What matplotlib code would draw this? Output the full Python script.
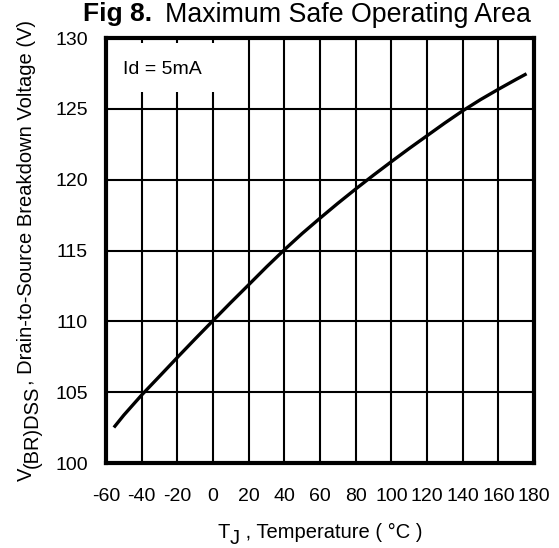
import numpy as np
import matplotlib.pyplot as plt
from matplotlib.patches import Rectangle
from matplotlib.transforms import IdentityTransform

plt.rcParams['font.family'] = ['Liberation Sans', 'DejaVu Sans']
plt.rcParams['axes.unicode_minus'] = False

# breakdown voltage vs junction temperature
temp_c = [-55, -50, -40, -30, -20, -10, 0, 10, 20, 30, 40, 50, 60, 70, 80, 90,
          100, 110, 120, 130, 140, 150, 160, 170, 175]
v_brdss = [102.6, 103.38, 104.8, 106.12, 107.45, 108.76, 110.05, 111.33, 112.58, 113.84,
           115.05, 116.2, 117.28, 118.33, 119.34, 120.32, 121.27, 122.2, 123.1, 124.0,
           124.86, 125.65, 126.38, 127.08, 127.42]

x_ticks = list(range(-60, 181, 20))
y_ticks = list(range(100, 131, 5))

W, H = 559, 548
fig = plt.figure(figsize=(W / 100, H / 100), dpi=100)
ax = fig.add_axes([106 / W, 1 - 463 / H, 428 / W, 425 / H])

ax.plot(temp_c, v_brdss, color='black', linewidth=2.4, zorder=4)

ax.set_xlim(-60, 180)
ax.set_ylim(100, 130)
ax.set_xticks(x_ticks)
ax.set_yticks(y_ticks)
ax.tick_params(length=0, labelsize=14)
ax.tick_params(axis='x', pad=18)
ax.tick_params(axis='y', pad=13)
ax.grid(True, color='black', linewidth=1.5)
ax.set_axisbelow(True)
for s in ax.spines.values():
    s.set_linewidth(3)
    s.set_zorder(5)

# white patch behind the condition label, hides the grid there
ax.add_patch(Rectangle((0, 0.873), 0.278, 0.115, transform=ax.transAxes,
                       facecolor='white', edgecolor='none', zorder=2))
ax.text(0.04, 0.925, 'Id = 5mA', transform=ax.transAxes, fontsize=14,
        va='center', ha='left', zorder=3)

renderer = fig.canvas.get_renderer()


def text_width(s, **kw):
    t = fig.text(0, 0, s, **kw)
    w = t.get_window_extent(renderer).width
    t.remove()
    return w


def draw_runs(x0, y0, runs, size, vertical=False):
    # runs: (text, drop in px); lays them out one after another in pixels
    pos = 0.0
    for s, drop in runs:
        if vertical:
            fig.text(x0 + drop, y0 + pos, s, transform=IdentityTransform(), rotation=90,
                     rotation_mode='anchor', ha='left', va='baseline', fontsize=size)
        else:
            fig.text(x0 + pos, y0 - drop, s, transform=IdentityTransform(),
                     ha='left', va='baseline', fontsize=size)
        pos += text_width(s, fontsize=size)


# x label: T with a full-size lowered J
draw_runs(217, H - 538, [('T', 0), ('J', 6), (' , Temperature ( °C )', 0)], 14.5)

# y label: V with a full-size lowered (BR)DSS
draw_runs(32, H - 481, [('V', 0), ('(BR)DSS', 6),
                        (', Drain-to-Source Breakdown Voltage (V)', 0)],
          14.5, vertical=True)

# title: bold figure number then the caption
fig.text(152 / W, 1 - 21.5 / H, 'Fig 8.', fontsize=19, fontweight='bold', ha='right', va='baseline')
fig.text(165 / W, 1 - 21.5 / H, 'Maximum Safe Operating Area', fontsize=19.3, ha='left', va='baseline')

fig.savefig('out.png', dpi=100)
